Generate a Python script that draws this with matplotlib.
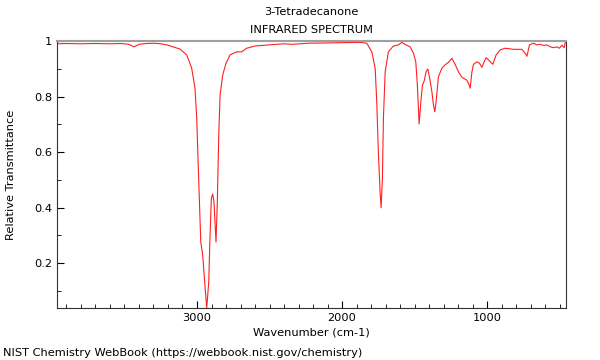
import numpy as np
import matplotlib
matplotlib.use("Agg")
import matplotlib.pyplot as plt
from matplotlib.ticker import MultipleLocator, FuncFormatter

# spectrum (wavenumber in cm-1, relative transmittance)
wavenumber = [3965, 3900, 3800, 3700, 3600, 3520, 3470, 3434, 3400, 3350,
              3297, 3250, 3200, 3166, 3117, 3071, 3037, 3014, 3002, 2991,
              2974, 2961, 2947, 2933, 2919, 2910, 2901, 2892, 2883, 2869,
              2860, 2850, 2841, 2823, 2800, 2772, 2726, 2692, 2657, 2600,
              2503, 2400, 2345, 2234, 2100, 2014, 1876, 1830, 1795, 1772,
              1761, 1750, 1738, 1731, 1722, 1715, 1703, 1681, 1646, 1612,
              1588, 1566, 1531, 1508, 1492, 1481, 1469, 1457, 1446, 1434,
              1421, 1409, 1398, 1381, 1370, 1361, 1352, 1336, 1312, 1290,
              1267, 1243, 1221, 1198, 1174, 1140, 1129, 1117, 1105, 1094,
              1071, 1053, 1036, 1021, 1007, 991, 961, 938, 910, 876,
              818, 761, 738, 726, 708, 681, 657, 634, 612, 588,
              565, 543, 519, 501, 485, 469, 460]
transmittance = [0.990, 0.991, 0.990, 0.991, 0.990, 0.991, 0.988, 0.979, 0.988, 0.991,
                 0.992, 0.990, 0.985, 0.979, 0.971, 0.950, 0.903, 0.831, 0.723, 0.542,
                 0.276, 0.229, 0.132, 0.038, 0.132, 0.301, 0.434, 0.449, 0.420, 0.276,
                 0.420, 0.661, 0.805, 0.877, 0.920, 0.950, 0.961, 0.961, 0.974, 0.982,
                 0.986, 0.990, 0.988, 0.992, 0.993, 0.994, 0.995, 0.992, 0.961, 0.902,
                 0.781, 0.601, 0.457, 0.399, 0.506, 0.723, 0.889, 0.961, 0.982, 0.986,
                 0.995, 0.988, 0.979, 0.956, 0.925, 0.841, 0.701, 0.781, 0.841, 0.856,
                 0.889, 0.899, 0.871, 0.817, 0.769, 0.745, 0.781, 0.871, 0.902, 0.914,
                 0.923, 0.938, 0.916, 0.889, 0.869, 0.859, 0.848, 0.830, 0.889, 0.916,
                 0.925, 0.920, 0.905, 0.925, 0.940, 0.932, 0.916, 0.950, 0.968, 0.974,
                 0.970, 0.970, 0.956, 0.945, 0.986, 0.992, 0.986, 0.988, 0.984, 0.986,
                 0.979, 0.976, 0.979, 0.974, 0.985, 0.976, 1.000]

title_text = "3-Tetradecanone\nINFRARED SPECTRUM"
footer_text = "NIST Chemistry WebBook (https://webbook.nist.gov/chemistry)"

plt.rcParams['font.family'] = 'DejaVu Sans'
plt.rcParams['font.size'] = 8.2

fig = plt.figure(figsize=(6, 3.6), dpi=100)
ax = fig.add_axes([0.095, 0.1444, 0.8475, 0.7417])

ax.plot(wavenumber, transmittance, color='#ff2020', linewidth=0.8)

ax.set_xlim(3965, 460)
ax.set_ylim(0.038, 1.0)

ax.xaxis.set_major_locator(MultipleLocator(1000))
ax.xaxis.set_minor_locator(MultipleLocator(100))
ax.yaxis.set_major_locator(MultipleLocator(0.2))
ax.yaxis.set_minor_locator(MultipleLocator(0.1))
ax.yaxis.set_major_formatter(FuncFormatter(lambda v, p: '%g' % round(v, 2)))

ax.tick_params(which='both', direction='in', top=False, right=False)
ax.tick_params(which='major', length=5)
ax.tick_params(which='minor', length=3)

ax.spines['top'].set_color('#a0a0a0')
ax.spines['top'].set_linewidth(1.5)
for s in ['left', 'bottom', 'right']:
    ax.spines[s].set_color('#333333')

ax.set_xlabel("Wavenumber (cm-1)")
ax.set_ylabel("Relative Transmittance")
ax.xaxis.set_label_coords(0.5, -0.072)
ax.yaxis.set_label_coords(-0.080, 0.5)
ax.set_title(title_text, fontsize=8.2, pad=6, linespacing=1.95)

fig.text(0.005, 0.01, footer_text, fontsize=8.2)

fig.savefig("out.png", dpi=100)
